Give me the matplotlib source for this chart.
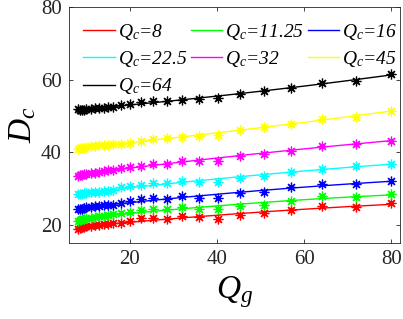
import numpy as np
import matplotlib
matplotlib.use("Agg")
import matplotlib.pyplot as plt

plt.rcParams['font.family'] = ['Liberation Serif', 'DejaVu Serif']
plt.rcParams['mathtext.fontset'] = 'custom'
plt.rcParams['mathtext.rm'] = 'Liberation Serif'
plt.rcParams['mathtext.it'] = 'Liberation Serif:italic'

Qg = [8, 8.5, 9, 9.5, 10, 11, 12, 13, 14, 15, 16, 18, 20,
      22.6, 25.4, 28.5, 32, 35.9, 40.3, 45.3, 50.8, 57, 64, 71.8, 80]

labels = ['8', '11.25', '16', '22.5', '32', '45', '64']
colors = ['#ff0000', '#00ff00', '#0000ff', '#00ffff', '#ff00ff', '#ffff00', '#000000']

D_8 = [18.9, 19.1, 19.3, 19.4, 19.6, 19.8, 20.0, 20.1, 20.2, 20.3, 20.4, 20.6, 21.0,
       21.8, 21.8, 21.7, 22.4, 22.2, 21.7, 22.6, 23.2, 24.1, 25.2, 24.9, 25.9]
D_1125 = [21.2, 21.4, 21.5, 21.7, 21.8, 22.0, 22.2, 22.4, 22.5, 22.7, 22.9, 23.4, 23.6,
          24.1, 24.3, 24.3, 24.9, 24.5, 24.3, 25.2, 25.6, 26.7, 27.9, 27.7, 28.4]
D_16 = [24.3, 24.4, 24.5, 24.6, 24.8, 25.0, 25.1, 25.3, 25.4, 25.5, 25.6, 26.1, 26.5,
        27.2, 27.3, 27.2, 28.1, 27.4, 27.4, 28.8, 29.1, 30.5, 31.3, 31.3, 32.0]
D_225 = [28.4, 28.5, 28.6, 28.7, 28.8, 29.0, 29.1, 29.2, 29.3, 29.4, 29.5, 30.4, 30.6,
         31.1, 31.6, 31.6, 32.2, 31.8, 31.8, 32.9, 33.6, 34.6, 35.5, 36.1, 36.8]
D_32 = [33.6, 33.7, 33.8, 34.0, 34.1, 34.3, 34.4, 34.6, 34.9, 35.0, 35.2, 35.6, 36.0,
        36.3, 36.9, 36.9, 37.6, 37.7, 37.5, 39.1, 39.6, 40.4, 41.8, 42.4, 43.2]
D_45 = [41.0, 41.1, 41.2, 41.3, 41.4, 41.6, 41.7, 41.9, 42.0, 42.1, 42.2, 42.4, 42.5,
        43.2, 43.6, 44.0, 44.3, 44.5, 44.8, 46.2, 47.0, 47.9, 49.1, 49.7, 51.5]
D_64 = [51.8, 51.6, 51.7, 51.7, 51.8, 51.9, 52.1, 52.2, 52.3, 52.4, 52.6, 53.0, 53.4,
        53.9, 54.2, 54.2, 54.4, 54.7, 54.9, 56.0, 57.0, 57.7, 59.0, 59.7, 61.6]

series = [D_8, D_1125, D_16, D_225, D_32, D_45, D_64]

fig = plt.figure(figsize=(4.03, 3.19), dpi=100)
ax = fig.add_axes([0.171, 0.238, 0.822, 0.740])

xfit = np.linspace(min(Qg), max(Qg), 200)
handles = []
for d, c, lab in zip(series, colors, labels):
    x = np.array(Qg)
    y = np.array(d)
    p = np.polyfit(x, y, 2)
    h, = ax.plot(xfit, np.polyval(p, xfit), color=c, lw=1.0,
                 label=r'$Q_c$=' + lab)
    ax.plot(x, y, linestyle='none', marker=(8, 2, 0), markersize=7,
            markeredgewidth=0.9, color=c)
    handles.append(h)

ax.set_xlim(6, 82)
ax.set_ylim(15, 80)
ax.set_xticks([20, 40, 60, 80])
ax.set_yticks([20, 40, 60, 80])
ax.tick_params(direction='in', top=True, right=True, length=3, width=0.6,
               labelsize=15, colors='#262626', labelcolor='#262626', pad=5)
for s in ax.spines.values():
    s.set_color('#262626')
    s.set_linewidth(0.6)

ax.set_xlabel(r'$Q_g$', fontsize=24, labelpad=4)
ax.set_ylabel(r'$D_c$', fontsize=24, labelpad=2)

# reorder so that legend reads row by row (3 columns)
order = [0, 3, 6, 1, 4, 2, 5]
hs = [handles[i] for i in order]
ax.legend(hs, [h.get_label() for h in hs], loc='upper left', ncol=3, frameon=False,
          prop={'style': 'italic', 'size': 14},
          handlelength=1.6, handletextpad=0.15, columnspacing=0.2,
          labelspacing=0.38, borderaxespad=0.45, borderpad=0.3)

fig.savefig('out.png', dpi=100)
